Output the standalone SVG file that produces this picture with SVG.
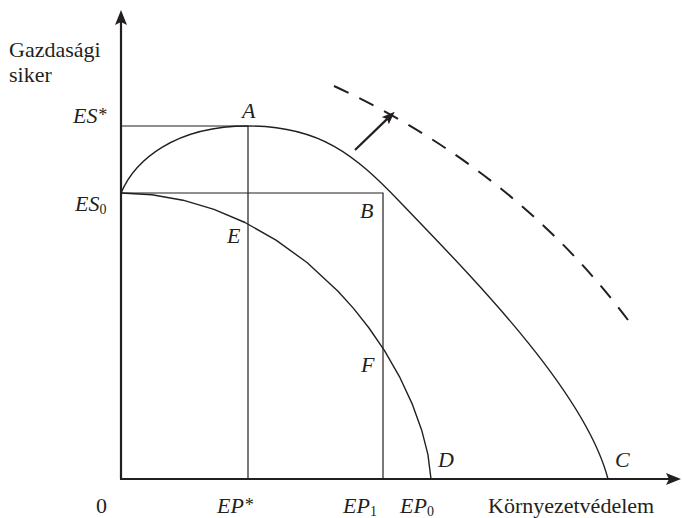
<svg xmlns="http://www.w3.org/2000/svg" width="682" height="518" viewBox="0 0 682 518">
<style>
.ax{stroke:#231f20;stroke-width:2.2;fill:none}
.thin{stroke:#231f20;stroke-width:1.2;fill:none}
.cv{stroke:#231f20;stroke-width:1.4;fill:none;stroke-linejoin:round}
.dash{stroke:#231f20;stroke-width:2;fill:none;stroke-dasharray:16 12}
text{font-family:"Liberation Serif","Times New Roman",serif;font-size:22px;fill:#231f20}
.it{font-style:italic}
</style>
<defs>
<marker id="ah" viewBox="0 0 15 12" refX="4" refY="6" markerWidth="15" markerHeight="12" markerUnits="userSpaceOnUse" orient="auto">
<path d="M0,0 L15,6 L0,12 L3,6 z" fill="#231f20"/>
</marker>
<marker id="ah2" viewBox="0 0 13 10" refX="3" refY="5" markerWidth="13" markerHeight="10" markerUnits="userSpaceOnUse" orient="auto">
<path d="M0,0 L13,5 L0,10 L2.5,5 z" fill="#231f20"/>
</marker>
</defs>
<g id="axes">
<path class="ax" d="M121,479 L121,21" marker-end="url(#ah)"/>
<path class="ax" d="M120,479 L670,479" marker-end="url(#ah)"/>
</g>
<g id="guides">
<path class="thin" d="M121,126 L248,126 M248,126 L248,479 M121,193 L383,193 L383,479"/>
</g>
<g id="curves">
<path id="outer" class="cv" d="M121,193 C135,160 175,126 248,126 C320,126 355,155 400,202 C467,272 585,390 608,479"/>
<path id="inner" class="cv" d="M121,193 L152,194.8 L183,200.2 L214,209.4 L245,222.5 L276,240.1 L307,262.5 L338,291.2 L353.5,308.4 L369,328 L384.5,350.6 L400,377.7 L412.4,404.4 L421.7,430.2 L427.9,454.3 L431,479"/>
<path id="shifted" class="dash" pathLength="380" d="M334,86 C455,142 553,220 628,320"/>
</g>
<g id="connectors">
<path class="ax" d="M355,150 L387.5,118.6" marker-end="url(#ah2)"/>
</g>
<g id="labels">
<text x="9" y="57">Gazdasági</text>
<text x="9" y="82">siker</text>
<text class="it" x="73" y="123">ES<tspan font-size="18" dy="-2">*</tspan></text>
<text class="it" x="75" y="211">ES<tspan font-size="14" font-style="normal" dy="3">0</tspan></text>
<text class="it" x="242" y="118">A</text>
<text class="it" x="360" y="218">B</text>
<text class="it" x="227" y="243">E</text>
<text class="it" x="361" y="372">F</text>
<text class="it" x="438" y="467">D</text>
<text class="it" x="615" y="467">C</text>
<text x="96" y="513">0</text>
<text class="it" x="217" y="513">EP<tspan font-size="18" dy="-2">*</tspan></text>
<text class="it" x="343" y="513">EP<tspan font-size="14" font-style="normal" dy="3">1</tspan></text>
<text class="it" x="400" y="513">EP<tspan font-size="14" font-style="normal" dy="3">0</tspan></text>
<text x="488" y="513">Környezetvédelem</text>
</g>
</svg>
